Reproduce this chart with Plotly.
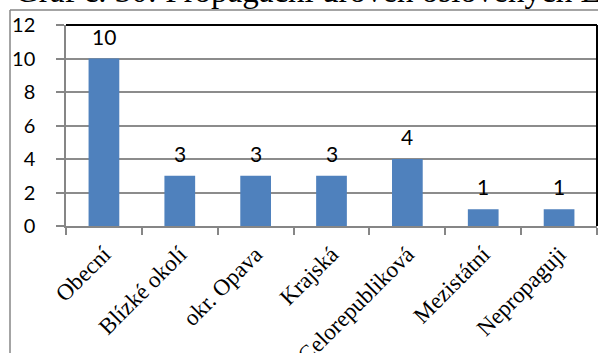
import plotly.graph_objects as go

categories = ["Obecní", "Blízké okolí", "okr. Opava", "Krajská", "Celorepubliková", "Mezistátní", "Nepropaguji"]
values = [10, 3, 3, 3, 4, 1, 1]
title_text = "Graf č. 30: Propagační úroveň oslovených ES"

W, H = 598, 353
L, R, T, B = 66, 1, 25, 127
pw, ph = W - L - R, H - T - B

def px_x(x):
    return (x - L) / pw

def px_y(y):
    return (H - B - y) / ph

fig = go.Figure()
fig.add_trace(go.Bar(
    x=categories, y=values,
    marker=dict(color="#4F81BD", line=dict(width=0)),
    cliponaxis=False,
))

value_labels = [
    dict(x=c, y=v, text=str(v), xref="x", yref="y", showarrow=False,
         xanchor="center", yanchor="bottom", yshift=8,
         font=dict(family="Lato", size=21, color="black"))
    for c, v in zip(categories, values)
]

fig.update_layout(
    width=W, height=H,
    margin=dict(l=L, r=R, t=T, b=B, pad=0, autoexpand=False),
    paper_bgcolor="white", plot_bgcolor="white",
    showlegend=False, bargap=0.595,
    xaxis=dict(
        type="category", tickangle=-45, tickson="boundaries", automargin=False,
        ticks="outside", ticklen=7, tickcolor="#868686", tickwidth=1.5,
        showline=True, linecolor="#868686", linewidth=1.5,
        showgrid=False,
        ticklabelstandoff=4,
        tickfont=dict(family="Liberation Serif", size=23, color="black"),
    ),
    yaxis=dict(
        range=[0, 12], dtick=2, tick0=0, automargin=False,
        ticks="outside", ticklen=8, tickcolor="#868686", tickwidth=1.5,
        showline=True, linecolor="#868686", linewidth=1.5,
        showgrid=True, gridcolor="#8c8c8c", gridwidth=1.5,
        zeroline=False,
        ticklabelstandoff=17,
        tickfont=dict(family="Lato", size=20, color="black"),
    ),
    shapes=[
        dict(type="line", xref="paper", yref="paper", x0=0, x1=1, y0=1, y1=1,
             line=dict(color="black", width=2)),
        dict(type="line", xref="paper", yref="paper", x0=1, x1=1, y0=0, y1=1,
             line=dict(color="black", width=2)),
        dict(type="line", xref="paper", yref="paper", x0=px_x(10), x1=px_x(W + 5),
             y0=px_y(10), y1=px_y(10), line=dict(color="#868686", width=1.5)),
        dict(type="line", xref="paper", yref="paper", x0=px_x(10), x1=px_x(10),
             y0=px_y(10), y1=px_y(H + 5), line=dict(color="#868686", width=1.5)),
    ],
    annotations=value_labels + [
        dict(text=title_text, xref="paper", yref="paper", x=px_x(13), y=px_y(11),
             xanchor="left", yanchor="bottom", showarrow=False,
             font=dict(family="Liberation Serif", size=33, color="black")),
    ],
)

fig.write_html("out.html", config={"displayModeBar": False},
               post_script="document.body.style.margin='0';document.body.style.overflow='hidden';")
